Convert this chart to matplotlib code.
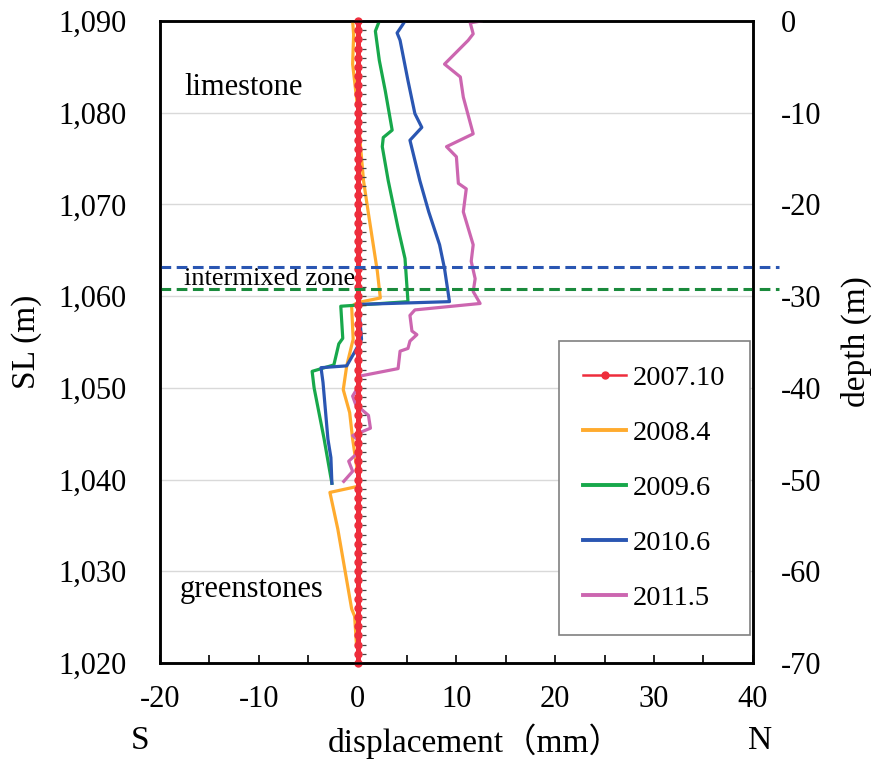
import matplotlib
matplotlib.use("Agg")
import matplotlib.pyplot as plt
from matplotlib.lines import Line2D
from matplotlib.ticker import MultipleLocator, FuncFormatter

plt.rcParams['font.family'] = ['Liberation Serif', 'Noto Sans CJK JP', 'DejaVu Sans']
plt.rcParams['axes.unicode_minus'] = False

# ---------------- data ----------------
labels = ["2007.10", "2008.4", "2009.6", "2010.6", "2011.5"]

# 2007.10 : reference survey (zero displacement at each station)
sl_2007 = [1020, 1021, 1022, 1023, 1024, 1025, 1026, 1027, 1028, 1029,
           1030, 1031, 1032, 1033, 1034, 1035, 1036, 1037, 1038, 1039,
           1040, 1041, 1042, 1043, 1044, 1045, 1046, 1047, 1048, 1049,
           1050, 1051, 1052, 1053, 1054, 1055, 1056, 1057, 1058, 1059,
           1060, 1061, 1062, 1063, 1064, 1065, 1066, 1067, 1068, 1069,
           1070, 1071, 1072, 1073, 1074, 1075, 1076, 1077, 1078, 1079,
           1080, 1081, 1082, 1083, 1084, 1085, 1086, 1087, 1088, 1089, 1090]
d_2007 = [0.0] * len(sl_2007)

sl_2008 = [1090, 1088.5, 1085.3, 1080.6, 1076.3, 1072.6, 1069.0, 1065.5, 1062.7,
           1059.8, 1059.3, 1058.9, 1055.3, 1052.4, 1049.8, 1047.3, 1044.4, 1039.3,
           1038.6, 1034.6, 1025.9, 1025.1, 1021.8]
d_2008 = [-0.5, -0.4, -0.5, 0.0, 0.3, 0.6, 1.1, 1.6, 2.0,
          2.3, 0.0, -0.6, -0.45, -1.1, -1.45, -0.8, -0.5, 0.2,
          -2.8, -2.0, -0.6, -0.3, -0.1]

sl_2009 = [1090, 1088.9, 1085.7, 1082.4, 1078.1, 1077.3, 1076.3, 1072.6, 1067.4,
           1064.1, 1059.4, 1058.9, 1055.4, 1054.8, 1052.5, 1051.8, 1050.0, 1044.5,
           1040.2, 1039.6]
d_2009 = [2.2, 1.8, 2.2, 2.8, 3.5, 2.6, 2.5, 3.1, 4.1,
          4.8, 5.1, -1.7, -1.5, -1.9, -2.4, -4.6, -4.4, -3.4,
          -2.7, -2.6]

sl_2010 = [1090, 1089.5, 1088.7, 1087.9, 1083.5, 1079.9, 1078.4, 1077.0, 1072.6,
           1069.2, 1065.6, 1063.0, 1059.4, 1059.1, 1055.3, 1053.9, 1052.4, 1052.2,
           1050.6, 1044.4, 1042.4, 1039.6]
d_2010 = [4.8, 4.5, 4.0, 4.3, 5.1, 5.8, 6.5, 5.3, 6.3,
          7.2, 8.3, 8.8, 9.3, 0.1, 0.4, -0.3, -1.1, -3.7,
          -3.5, -3.0, -2.7, -2.6]

sl_2011 = [1090, 1089.8, 1088.6, 1087.9, 1085.3, 1083.9, 1081.7, 1077.7, 1076.3,
           1075.2, 1072.3, 1071.7, 1069.2, 1067.4, 1065.6, 1063.8, 1061.9, 1060.5,
           1059.2, 1058.5, 1057.9, 1056.2, 1055.8, 1055.1, 1054.3, 1054.0, 1052.1,
           1051.3, 1050.0, 1049.1, 1048.2, 1047.0, 1045.6, 1044.8, 1044.1, 1043.0,
           1042.0, 1040.9, 1039.8]
d_2011 = [12.5, 11.4, 11.7, 11.2, 8.8, 10.4, 10.7, 11.7, 9.0,
          10.0, 10.2, 11.0, 10.7, 11.2, 11.7, 11.5, 11.9, 11.7,
          12.4, 5.8, 5.3, 5.5, 6.0, 5.3, 5.1, 4.3, 4.1,
          0.3, 0.0, -0.5, -0.2, 1.1, 1.3, -0.5, 0.3, 0.1,
          -0.9, -0.5, -1.4]

zone_top = 1063.2
zone_bottom = 1060.8

x_ticks = [-20, -10, 0, 10, 20, 30, 40]
sl_ticks = [1020, 1030, 1040, 1050, 1060, 1070, 1080, 1090]
depth_ticks = [-70, -60, -50, -40, -30, -20, -10, 0]

# ---------------- style ----------------
c_red = '#ee2d3c'
c_orange = '#ffab2e'
c_green = '#17a84b'
c_blue = '#2a56b2'
c_mag = '#cc66b0'
c_zone_blue = '#2a56b2'
c_zone_green = '#1a8a3c'

fig = plt.figure(figsize=(8.77, 7.67), dpi=100)
ax = fig.add_axes([0.1824, 0.1356, 0.676, 0.837])

ax.set_xlim(-20, 40)
ax.set_ylim(1020, 1090)

for v in sl_ticks[1:-1]:
    ax.axhline(v, color='#d9d9d9', lw=1.0, zorder=0)

lw = 2.3
ax.plot(d_2008, sl_2008, color=c_orange, lw=lw, zorder=3)
ax.plot(d_2009, sl_2009, color=c_green, lw=lw, zorder=3)
ax.plot(d_2010, sl_2010, color=c_blue, lw=lw, zorder=3)
ax.plot(d_2011, sl_2011, color=c_mag, lw=lw, zorder=3)
ax.plot(d_2007, sl_2007, color=c_red, lw=3.6, marker='o', ms=5,
        mec=c_red, mfc=c_red, zorder=4, clip_on=False)
ax.plot([v + 0.65 for v in d_2007], sl_2007, ls='none', marker='_', ms=3.5,
        mew=0.9, color='#444444', zorder=4)

ax.axhline(zone_top, xmin=0, xmax=1.045, color=c_zone_blue, lw=2.2,
           ls=(0, (3.5, 1.8)), clip_on=False, zorder=5)
ax.axhline(zone_bottom, xmin=0, xmax=1.045, color=c_zone_green, lw=2.2,
           ls=(0, (3.5, 1.8)), clip_on=False, zorder=5)

ax.text(-17.5, 1082.7, 'limestone', fontsize=22, ha='left', va='center')
ax.text(-18.0, 1028.0, 'greenstones', fontsize=22, ha='left', va='center')
ax.text(-17.6, 1061.9, 'intermixed zone', fontsize=19, ha='left', va='center')

ax.set_xticks(x_ticks)
ax.xaxis.set_minor_locator(MultipleLocator(5))
ax.set_yticks(sl_ticks)
ax.yaxis.set_major_formatter(FuncFormatter(lambda v, p: f"{int(v):,}"))
ax.tick_params(axis='x', which='both', direction='in', length=6, width=1.2,
               labelsize=22, pad=16, top=False)
ax.tick_params(axis='y', which='both', length=0, labelsize=22, pad=24)
for s in ax.spines.values():
    s.set_linewidth(1.8)
    s.set_color('black')

ax.set_ylabel('SL (m)', fontsize=24, labelpad=12)

ax2 = ax.twinx()
ax2.set_ylim(-70, 0)
ax2.set_yticks(depth_ticks)
ax2.tick_params(axis='y', length=0, labelsize=22, pad=20)
for s in ax2.spines.values():
    s.set_linewidth(1.8)
ax2.set_ylabel('depth (m)', fontsize=24, labelpad=14)

fig.text(140 / 877, 1 - 741 / 767, 'S', fontsize=24, ha='center', va='center')
fig.text(760 / 877, 1 - 741 / 767, 'N', fontsize=24, ha='center', va='center')
fig.text(475 / 877, 1 - 741 / 767, 'displacement（mm）', fontsize=24,
         ha='center', va='center')

handles = [
    Line2D([], [], color=c_red, lw=1.8, marker='o', ms=5),
    Line2D([], [], color=c_orange, lw=2.8),
    Line2D([], [], color=c_green, lw=2.8),
    Line2D([], [], color=c_blue, lw=2.8),
    Line2D([], [], color=c_mag, lw=2.8),
]
leg = ax.legend(handles, labels, loc='lower right',
                bbox_to_anchor=(0.995, 0.044), fontsize=20.5,
                frameon=True, fancybox=False, edgecolor='#808080',
                framealpha=1, handlelength=1.5, handletextpad=0.25,
                labelspacing=1.02, borderpad=0.85, borderaxespad=0)
leg.get_frame().set_linewidth(1.2)
leg.set_zorder(6)

fig.savefig('out.png', dpi=100)
